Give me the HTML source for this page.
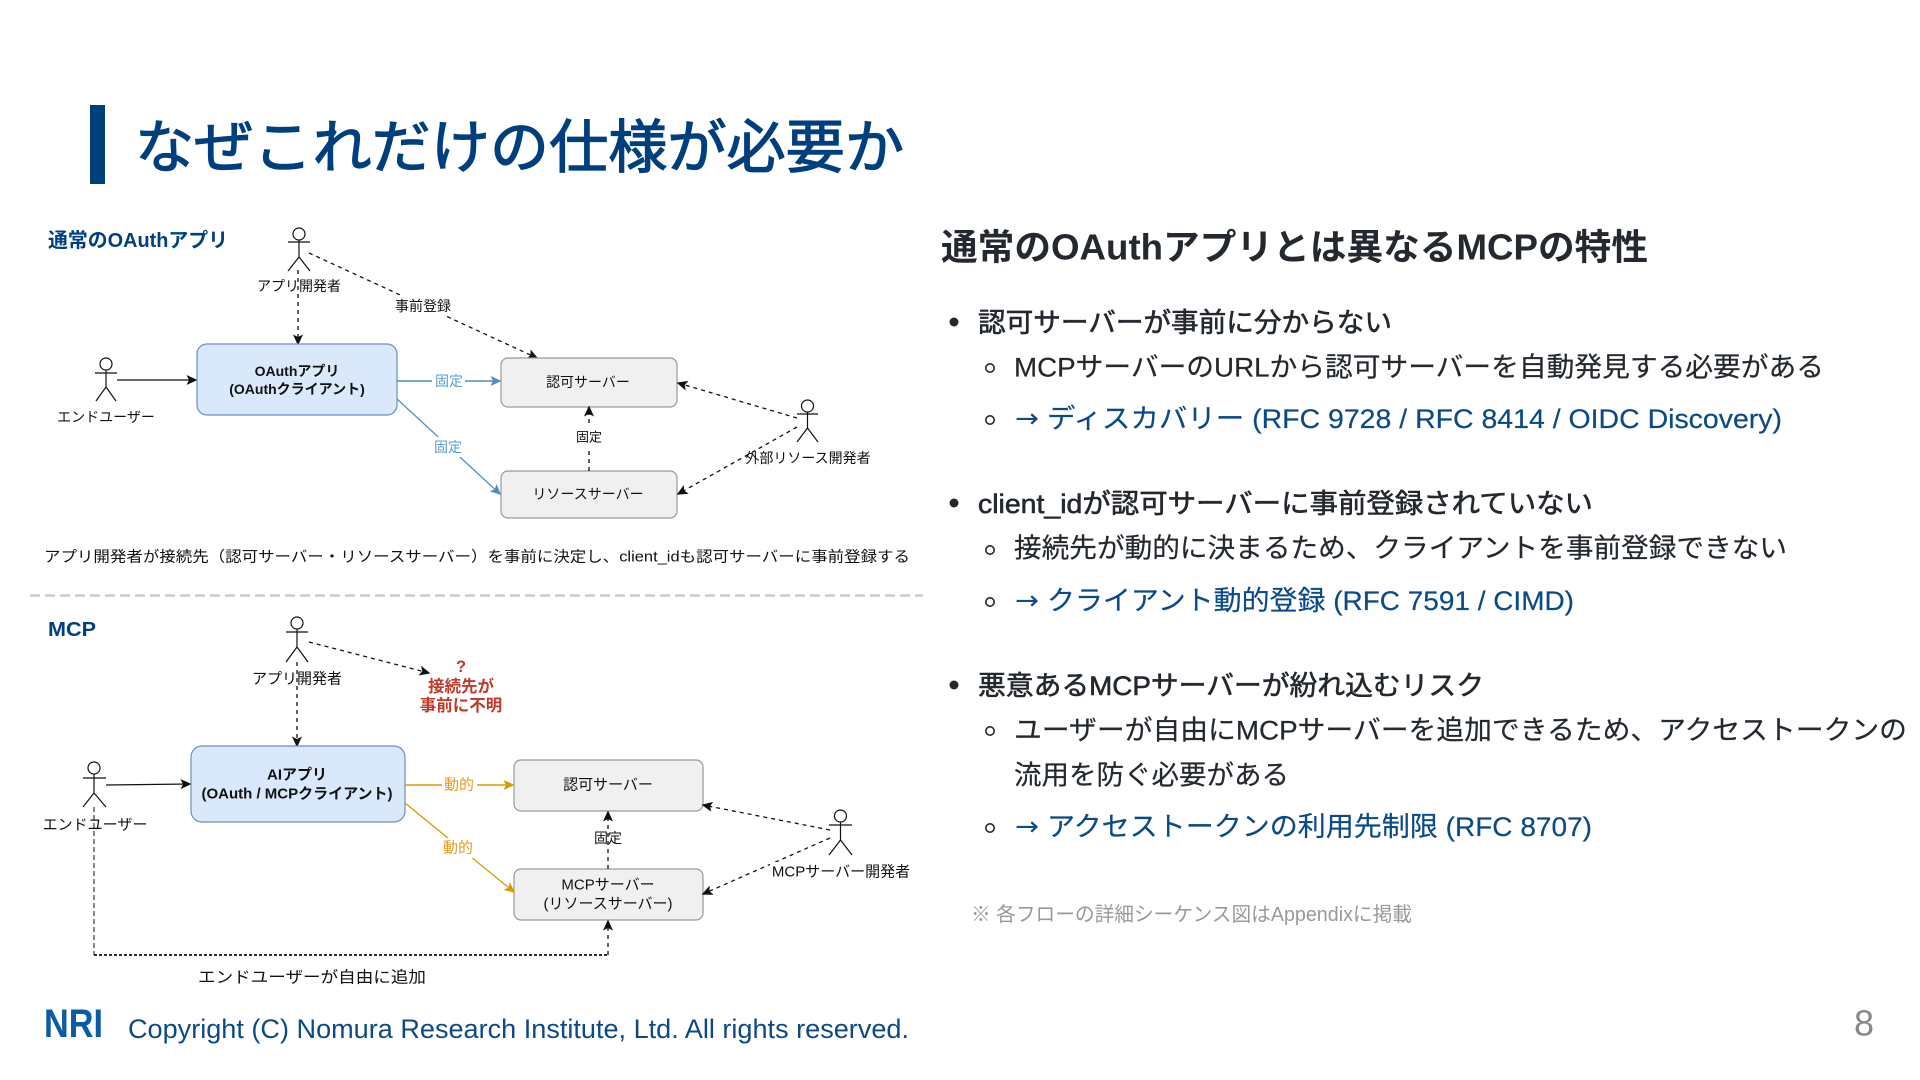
<!DOCTYPE html>
<html lang="ja"><head><meta charset="utf-8"><title>なぜこれだけの仕様が必要か</title>
<style>
html,body{margin:0;padding:0;background:#fff;width:1920px;height:1080px;overflow:hidden}
svg{display:block}
text{font-family:"Liberation Sans","Noto Sans CJK JP",sans-serif;dominant-baseline:central}
.d{font-size:14px;fill:#111;text-anchor:middle}
.b{font-size:14px;font-weight:700;fill:#111;text-anchor:middle}
.h{font-weight:700;font-size:20px;fill:#004080}
.l1{font-size:27px;fill:#24292f;stroke:#24292f;stroke-width:.6px}
.l2{font-size:27px;fill:#24292f;stroke:#24292f;stroke-width:.2px}
.a{font-size:27px;fill:#0b4a86;stroke:#0b4a86;stroke-width:.2px}
.ar{font-family:"DejaVu Sans",sans-serif;font-size:26px;fill:#0b4a86}
.ln{fill:none;stroke:#111;stroke-width:1.3}
.dash{fill:none;stroke:#111;stroke-width:1.3;stroke-dasharray:4 4}
.actor{fill:none;stroke:#111;stroke-width:1.2}
</style></head><body>
<svg width="1920" height="1080" viewBox="0 0 1920 1080" xmlns="http://www.w3.org/2000/svg">
<defs>
<marker id="k" markerWidth="12" markerHeight="12" refX="9.5" refY="5" orient="auto" markerUnits="userSpaceOnUse"><path d="M0 0L11 5L0 10L2.5 5Z" fill="#111"/></marker>
<marker id="bl" markerWidth="12" markerHeight="12" refX="9.5" refY="5" orient="auto" markerUnits="userSpaceOnUse"><path d="M0 0L11 5L0 10L2.5 5Z" fill="#4f8fbf"/></marker>
<marker id="or" markerWidth="12" markerHeight="12" refX="9.5" refY="5" orient="auto" markerUnits="userSpaceOnUse"><path d="M0 0L11 5L0 10L2.5 5Z" fill="#d79b00"/></marker>
</defs>
<rect width="1920" height="1080" fill="#fff"/>

<!-- Title -->
<rect x="90" y="105" width="15" height="79" fill="#003f7d"/>
<text x="135" y="148" font-size="58" fill="#003f7d" stroke="#003f7d" stroke-width="1.2" textLength="769" lengthAdjust="spacingAndGlyphs">なぜこれだけの仕様が必要か</text>

<!-- Upper diagram -->
<text class="h" x="48" y="241" textLength="180" lengthAdjust="spacingAndGlyphs">通常のOAuthアプリ</text>
<g class="actor"><circle cx="299" cy="234" r="6"/><path d="M299 240V257M288 242H310M299 257L288 271M299 257L310 271"/></g>
<text class="d" x="299" y="286">アプリ開発者</text>
<path class="dash" d="M298 270V344" marker-end="url(#k)"/>
<path class="dash" d="M309 253L537 358" marker-end="url(#k)"/>
<rect x="390" y="296" width="66" height="20" fill="#fff"/>
<text class="d" x="423" y="306">事前登録</text>

<g class="actor"><circle cx="106" cy="364" r="6"/><path d="M106 370V387M95 373H117M106 387L96 401M106 387L116 401"/></g>
<text class="d" x="106" y="417">エンドユーザー</text>
<path class="ln" d="M117 380H196" marker-end="url(#k)"/>

<rect x="197" y="344" width="200" height="71" rx="10" fill="#dae8fc" stroke="#6c8ebf" stroke-width="1.2"/>
<text class="b" x="297" y="371">OAuthアプリ</text>
<text class="b" x="297" y="389">(OAuthクライアント)</text>

<rect x="501" y="358" width="176" height="49" rx="7" fill="#f0f0f0" stroke="#9a9a9a" stroke-width="1.2"/>
<text class="d" x="588" y="382">認可サーバー</text>
<rect x="501" y="471" width="176" height="47" rx="7" fill="#f0f0f0" stroke="#9a9a9a" stroke-width="1.2"/>
<text class="d" x="588" y="494">リソースサーバー</text>

<path d="M397 381H500" fill="none" stroke="#4f8fbf" stroke-width="1.4" marker-end="url(#bl)"/>
<rect x="432" y="371" width="33" height="20" fill="#fff"/>
<text class="d" x="449" y="381" style="fill:#5b9bc8">固定</text>
<path d="M397 399L500 494" fill="none" stroke="#4f8fbf" stroke-width="1.2" marker-end="url(#bl)"/>
<rect x="432" y="437" width="33" height="20" fill="#fff"/>
<text class="d" x="448" y="447" style="fill:#5b9bc8">固定</text>

<path class="dash" d="M589 471V407" marker-end="url(#k)"/>
<rect x="575" y="427" width="28" height="20" fill="#fff"/>
<text class="d" x="589" y="437" style="font-size:13px">固定</text>

<g class="actor"><circle cx="807.5" cy="406" r="6"/><path d="M807.5 412V428M797 414H818M807.5 428L797 442M807.5 428L818 442"/></g>
<path class="dash" d="M797 418L678 383" marker-end="url(#k)"/>
<path class="dash" d="M797 427L678 494" marker-end="url(#k)"/>
<text class="d" x="808" y="458">外部リソース開発者</text>

<text x="44" y="557" font-size="15" fill="#111" textLength="866" lengthAdjust="spacingAndGlyphs">アプリ開発者が接続先（認可サーバー・リソースサーバー）を事前に決定し、client_idも認可サーバーに事前登録する</text>

<path d="M30 595.5H923" fill="none" stroke="#ccc" stroke-width="2.5" stroke-dasharray="10 5"/>

<!-- Lower diagram -->
<text class="h" x="48" y="630" textLength="48" lengthAdjust="spacingAndGlyphs">MCP</text>
<g class="actor"><circle cx="297" cy="623" r="6"/><path d="M297 629V647M286 632H308M297 647L286 662M297 647L308 662"/></g>
<text class="d" x="297" y="679" style="font-size:15px">アプリ開発者</text>
<path class="dash" d="M297 662V746" marker-end="url(#k)"/>
<path class="dash" d="M309 642L429 673" marker-end="url(#k)"/>
<g fill="#c0392b" font-weight="700" font-size="16.5" text-anchor="middle">
<text x="461" y="667">?</text><text x="461" y="687">接続先が</text><text x="461" y="706">事前に不明</text></g>

<g class="actor"><circle cx="94" cy="768" r="6"/><path d="M94 774V793M83 778H106M94 793L83 807M94 793L106 807"/></g>
<text class="d" x="95" y="825" style="font-size:15px">エンドユーザー</text>
<path class="ln" d="M106 785L190 784" marker-end="url(#k)"/>

<rect x="191" y="746" width="214" height="76" rx="11" fill="#dae8fc" stroke="#6c8ebf" stroke-width="1.2"/>
<text class="b" x="297" y="775" style="font-size:15px">AIアプリ</text>
<text class="b" x="297" y="794" style="font-size:15px">(OAuth / MCPクライアント)</text>

<rect x="514" y="760" width="189" height="51" rx="7" fill="#f0f0f0" stroke="#9a9a9a" stroke-width="1.2"/>
<text class="d" x="608" y="785" style="font-size:15px">認可サーバー</text>
<rect x="514" y="869" width="189" height="51" rx="7" fill="#f0f0f0" stroke="#9a9a9a" stroke-width="1.2"/>
<text class="d" x="608" y="885" style="font-size:15px">MCPサーバー</text>
<text class="d" x="608" y="904" style="font-size:15px">(リソースサーバー)</text>

<path d="M405 785H513" fill="none" stroke="#d79b00" stroke-width="1.4" marker-end="url(#or)"/>
<rect x="442" y="775" width="35" height="20" fill="#fff"/>
<text class="d" x="459" y="785" style="font-size:15px;fill:#e69a1f">動的</text>
<path d="M405 803L514 892" fill="none" stroke="#d79b00" stroke-width="1.3" marker-end="url(#or)"/>
<rect x="440" y="838" width="35" height="20" fill="#fff"/>
<text class="d" x="458" y="848" style="font-size:15px;fill:#e69a1f">動的</text>

<path class="dash" d="M608 869V812" marker-end="url(#k)"/>
<text class="d" x="608" y="838" style="font-size:14px">固定</text>

<g class="actor"><circle cx="840.5" cy="816" r="6"/><path d="M840.5 822V840M829 825H852M840.5 840L829 855M840.5 840L852 855"/></g>
<path class="dash" d="M830 830L703 805" marker-end="url(#k)"/>
<path class="dash" d="M830 838L703 894" marker-end="url(#k)"/>
<rect x="770" y="862" width="142" height="20" fill="#fff"/>
<text class="d" x="841" y="872" style="font-size:15px">MCPサーバー開発者</text>

<path d="M94 807V955" fill="none" stroke="#111" stroke-width="1" stroke-dasharray="5 3"/>
<path d="M94 955H608" fill="none" stroke="#111" stroke-width="1.8" stroke-dasharray="3 2"/>
<path class="dash" d="M608 955V921" marker-end="url(#k)"/>
<text class="d" x="312" y="978" style="font-size:16px" textLength="228" lengthAdjust="spacingAndGlyphs">エンドユーザーが自由に追加</text>

<!-- Footer -->
<text x="44" y="1024" font-size="40" font-weight="700" fill="#0a5ca8" textLength="59" lengthAdjust="spacingAndGlyphs">NRI</text>
<text x="128" y="1029" font-size="27" fill="#0b4a86" textLength="781" lengthAdjust="spacingAndGlyphs">Copyright (C) Nomura Research Institute, Ltd. All rights reserved.</text>
<text x="1864" y="1023" font-size="36" fill="#888" text-anchor="middle">8</text>

<!-- Right column -->
<text x="941" y="247" font-size="36" font-weight="700" fill="#24292f" textLength="707" lengthAdjust="spacingAndGlyphs">通常のOAuthアプリとは異なるMCPの特性</text>

<g fill="#24292f"><circle cx="954" cy="322" r="4.5"/><circle cx="954" cy="503" r="4.5"/><circle cx="954" cy="685" r="4.5"/></g>
<g fill="none" stroke="#24292f" stroke-width="1.6">
<circle cx="990" cy="368" r="4.2"/><circle cx="990" cy="420" r="4.2"/>
<circle cx="990" cy="550" r="4.2"/><circle cx="990" cy="602" r="4.2"/>
<circle cx="990" cy="731" r="4.2"/><circle cx="990" cy="828" r="4.2"/></g>

<text class="l1" x="978" y="323" textLength="414" lengthAdjust="spacingAndGlyphs">認可サーバーが事前に分からない</text>
<text class="l2" x="1014" y="367.500" textLength="810" lengthAdjust="spacingAndGlyphs">MCPサーバーのURLから認可サーバーを自動発見する必要がある</text>
<text class="ar" x="1015" y="419" textLength="24" lengthAdjust="spacingAndGlyphs">→</text>
<text class="a" x="1047" y="419" textLength="735" lengthAdjust="spacingAndGlyphs">ディスカバリー (RFC 9728 / RFC 8414 / OIDC Discovery)</text>

<text class="l1" x="978" y="504" textLength="615" lengthAdjust="spacingAndGlyphs">client_idが認可サーバーに事前登録されていない</text>
<text class="l2" x="1014" y="548.500" textLength="773" lengthAdjust="spacingAndGlyphs">接続先が動的に決まるため、クライアントを事前登録できない</text>
<text class="ar" x="1015" y="601" textLength="24" lengthAdjust="spacingAndGlyphs">→</text>
<text class="a" x="1047" y="601" textLength="527" lengthAdjust="spacingAndGlyphs">クライアント動的登録 (RFC 7591 / CIMD)</text>

<text class="l1" x="978" y="686" textLength="506" lengthAdjust="spacingAndGlyphs">悪意あるMCPサーバーが紛れ込むリスク</text>
<text class="l2" x="1014" y="730.500" textLength="893" lengthAdjust="spacingAndGlyphs">ユーザーが自由にMCPサーバーを追加できるため、アクセストークンの</text>
<text class="l2" x="1014" y="775.500" textLength="275" lengthAdjust="spacingAndGlyphs">流用を防ぐ必要がある</text>
<text class="ar" x="1015" y="827" textLength="24" lengthAdjust="spacingAndGlyphs">→</text>
<text class="a" x="1047" y="827" textLength="545" lengthAdjust="spacingAndGlyphs">アクセストークンの利用先制限 (RFC 8707)</text>

<text x="971" y="915" font-size="20" fill="#999" textLength="441" lengthAdjust="spacingAndGlyphs">※ 各フローの詳細シーケンス図はAppendixに掲載</text>
</svg>
</body></html>
